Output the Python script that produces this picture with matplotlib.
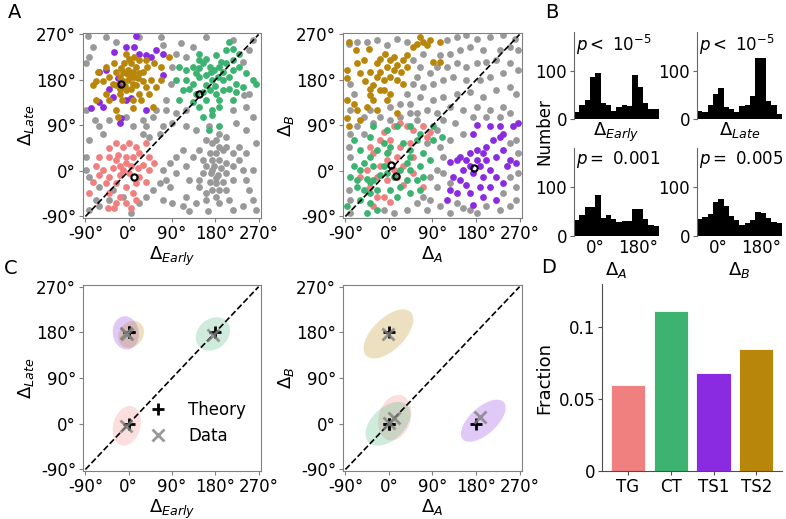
import numpy as np
import matplotlib
matplotlib.use("Agg")
import matplotlib.pyplot as plt
from matplotlib.patches import Ellipse
from matplotlib.lines import Line2D

# colours for the four cell classes
TG_COL = '#F08080'
CT_COL = '#3CB371'
TS1_COL = '#8A2BE2'
TS2_COL = '#B8860B'
GRAY = '#999999'

# ---------------- panel A, left: Delta_Early vs Delta_Late ----------------
el_ts2 = [(-68, 177), (-64, 196), (-47, 206), (-40, 186), (-30, 213), (-26, 170), (-19, 153), (-9, 213),
          (-2, 200), (5, 213), (5, 186), (8, 173), (15, 206), (22, 193), (29, 177), (39, 206), (46, 180),
          (53, 213), (67, 206), (67, 180), (84, 226), (57, 167), (43, 153), (22, 153), (8, 140), (-6, 160),
          (-13, 140), (-26, 120), (-40, 140), (-47, 153), (-68, 140), (-33, 173), (-19, 186), (-12, 196),
          (1, 222), (-6, 232), (12, 226), (22, 219), (36, 219), (15, 170), (5, 163), (-19, 163), (-54, 177),
          (-75, 170), (36, 167), (50, 127), (8, 124), (-23, 107), (26, 140), (-12, 177), (-2, 180), (8, 196),
          (-6, 193), (-16, 203), (-26, 196), (19, 183), (29, 196), (0, 190), (10, 185), (-8, 168)]
el_ts1 = [(15, 267), (-6, 246), (12, 246), (22, 232), (36, 229), (71, 232), (57, 239), (-61, 196), (-47, 200),
          (-23, 183), (-78, 124), (-54, 127), (-33, 147), (-16, 104), (-19, 94), (-6, 140), (5, 144), (36, 120),
          (-40, 163), (-30, 236), (46, 226), (-61, 137), (71, 190), (-18, 173)]
el_ct = [(209, 256), (147, 232), (161, 222), (181, 229), (202, 239), (216, 242), (230, 232), (105, 206),
         (119, 200), (133, 206), (147, 203), (154, 213), (168, 206), (178, 200), (188, 206), (202, 213),
         (216, 200), (230, 206), (244, 193), (258, 180), (265, 173), (98, 180), (119, 180), (133, 173),
         (147, 186), (161, 190), (174, 180), (185, 186), (195, 180), (209, 186), (223, 173), (237, 167),
         (112, 160), (126, 163), (140, 153), (154, 156), (168, 160), (181, 153), (195, 160), (209, 163),
         (223, 156), (105, 140), (133, 137), (161, 140), (188, 140), (216, 140), (147, 127), (174, 120),
         (188, 127), (154, 107), (174, 111), (188, 88), (167, 81), (147, 219), (192, 216), (140, 193),
         (216, 219), (170, 195), (195, 195), (160, 170), (180, 168)]
el_tg = [(-40, 45), (-26, 55), (-12, 48), (1, 55), (15, 48), (36, 55), (-61, 28), (-40, 28), (-26, 22), (-6, 28),
         (8, 28), (22, 35), (43, 28), (53, 15), (-68, 9), (-54, 2), (-33, 5), (-19, 9), (5, 9), (29, 12), (43, 2),
         (-61, -8), (-40, -11), (-19, -8), (1, -4), (22, -11), (36, -21), (-75, -21), (-47, -24), (-26, -24),
         (-6, -31), (15, -24), (-82, -43), (-40, -44), (-19, -51), (8, -44), (15, -57), (-26, -64), (-6, -64),
         (-44, -74), (-30, -74), (5, -74), (-23, 32), (-12, 2), (19, 5), (-5, 15)]
el_gray = [(-85, 267), (-47, 265), (-26, 255), (22, 265), (67, 265), (109, 254), (133, 246), (161, 265),
           (216, 259), (258, 259), (251, 239), (71, 249), (98, 232), (-89, 213), (-82, 226), (-75, 246),
           (91, 206), (88, 173), (237, 216), (119, 226), (251, 153), (-61, 88), (-40, 101), (-54, 74),
           (-82, 61), (-6, 107), (8, 88), (29, 101), (50, 107), (71, 88), (78, 120), (98, 114), (91, 94),
           (64, 74), (43, 68), (29, 74), (119, 88), (140, 81), (216, 120), (244, 127), (223, 94), (258, 107),
           (244, 81), (-89, 28), (-89, 2), (-82, -11), (-61, -31), (-68, -57), (-61, -70), (-82, -77),
           (-40, -57), (-33, -37), (-12, -51), (5, -84), (22, -64), (36, -51), (50, -37), (64, -24), (78, -18),
           (71, 2), (85, 15), (98, -4), (85, -31), (71, -57), (91, -64), (119, -51), (112, -70), (126, -80),
           (98, 28), (112, 42), (133, 28), (119, 9), (126, -18), (147, -31), (140, -64), (161, -57),
           (164, -80), (161, 61), (174, 55), (147, 42), (168, 35), (181, 35), (195, 42), (154, 22), (174, 22),
           (188, 22), (202, 15), (161, 9), (178, 9), (192, 5), (216, 9), (154, -4), (171, -4), (185, -8),
           (202, -4), (147, -18), (168, -21), (181, -24), (195, -21), (216, -18), (174, -37), (188, -37),
           (202, -37), (181, -51), (161, -44), (209, -57), (188, -64), (230, 22), (237, 2), (244, -18),
           (251, -37), (258, -57), (237, -70), (265, -77), (216, -77), (258, 2), (216, 35), (244, 35),
           (202, 68), (188, 74), (167, 88), (202, 48), (230, 48), (265, 55), (181, 61), (188, 48), (174, 2),
           (181, -14), (36, 88), (57, 120), (78, 140), (-89, 120), (-70, 100), (120, 120), (240, 150)]
el_means = [(-15, 173), (147, 153), (12, -11)]

# ---------------- panel A, right: Delta_A vs Delta_B ----------------
ab_ts2 = [(-83, 256), (-42, 242), (-87, 200), (-87, 183), (-87, 140), (-87, 104), (-83, 88), (-66, 213),
          (-59, 193), (-49, 177), (-39, 196), (-25, 213), (-25, 186), (-39, 163), (-39, 150), (-32, 140),
          (-25, 120), (-18, 160), (-11, 180), (-4, 206), (3, 219), (10, 226), (3, 186), (10, 200), (17, 209),
          (24, 196), (30, 219), (37, 229), (17, 180), (30, 173), (-11, 160), (3, 153), (-4, 140), (17, 114),
          (-45, 127), (-66, 120), (-73, 133), (-59, 101), (37, 206), (57, 252), (64, 265), (71, 256),
          (85, 259), (105, 256), (78, 249), (50, 246), (92, 216), (105, 216), (-18, 222), (-8, 232),
          (-52, 219), (-69, 239), (-18, 196), (-32, 170)]
ab_tg = [(10, 88), (23, 94), (37, 88), (50, 81), (71, 88), (85, 78), (78, 68), (-11, 78), (-18, 61), (-39, 48),
         (-32, 35), (3, 61), (23, 48), (44, 55), (50, 28), (30, 9), (17, 28), (-4, 22), (-18, 9), (-45, 2),
         (-59, -11), (-39, -31), (-25, -11), (-4, -18), (17, -11), (30, -28), (50, -4), (71, -31), (-11, -51),
         (3, -61), (-32, -70), (-25, -51), (-45, -37), (10, 2), (-1, 38)]
ab_ct = [(-32, 88), (-4, 81), (17, 88), (44, 88), (64, 74), (92, 88), (109, 68), (92, 61), (57, 61), (30, 55),
         (-11, 55), (-39, 68), (-73, 61), (-59, 42), (-39, 28), (-25, 42), (-4, 35), (44, 28), (71, 35),
         (85, 22), (64, 9), (44, 2), (23, 2), (-11, 9), (-32, 9), (-52, 15), (-73, 9), (-80, -11), (-66, -18),
         (-45, -15), (-32, -18), (-18, -8), (-4, -4), (10, -11), (37, -18), (57, -18), (71, -11), (-66, -31),
         (-52, -37), (-39, -44), (-25, -37), (3, -37), (23, -31), (44, -44), (64, -37), (-39, -64),
         (-25, -77), (-45, -84), (-59, -57), (17, -51), (-59, 2), (37, 15), (3, 48), (44, 42), (-87, -70),
         (-39, -21)]
ab_ts1 = [(181, 91), (174, 74), (208, 88), (229, 88), (236, 74), (256, 88), (266, 94), (229, 68), (215, 61),
          (201, 48), (181, 42), (167, 35), (146, 28), (126, 18), (140, 22), (160, 22), (181, 22), (201, 22),
          (222, 28), (236, 42), (243, 9), (263, 15), (167, 9), (188, 9), (208, 2), (174, -4), (194, -11),
          (222, -11), (153, 2), (132, -11), (146, -18), (160, -28), (188, -31), (208, -31), (236, -24),
          (126, -37), (140, -44), (167, -44), (194, -51), (222, -57), (119, -57), (174, -67), (250, 22),
          (194, 35)]
ab_gray = [(-83, 252), (-66, 256), (-45, 256), (-25, 259), (-4, 249), (17, 262), (37, 256), (119, 259),
           (140, 265), (160, 269), (181, 262), (208, 265), (236, 269), (260, 262), (266, 239), (250, 246),
           (229, 239), (195, 239), (167, 246), (146, 239), (126, 232), (105, 229), (140, 213), (160, 206),
           (181, 213), (201, 216), (222, 219), (250, 213), (266, 200), (236, 193), (208, 186), (188, 180),
           (160, 180), (133, 186), (112, 180), (92, 173), (71, 167), (50, 173), (37, 153), (64, 147),
           (92, 140), (112, 147), (140, 153), (167, 156), (195, 147), (222, 160), (250, 167), (263, 153),
           (236, 127), (208, 120), (181, 127), (153, 120), (126, 127), (99, 114), (78, 120), (57, 114),
           (44, 133), (136, 94), (112, 101), (153, 74), (126, 61), (105, 48), (112, 28), (99, 2), (85, -11),
           (99, -31), (112, -4), (85, -57), (105, -70), (126, -84), (153, -74), (181, -84), (201, -70),
           (229, -77), (250, -70), (263, -57), (263, -31), (250, -11), (266, -4), (266, 35), (263, 61),
           (250, 55), (78, -77), (57, -64), (37, -77), (10, -84), (-11, -77), (-80, -84), (-80, -57),
           (-83, -37), (-80, 28), (-83, 48), (-80, 74), (-66, 88), (-52, 107), (-80, 120), (-39, 120),
           (-18, 107), (3, 127), (23, 133), (44, 114), (57, 101), (23, 107), (3, 101), (-32, 94), (-52, 74),
           (-80, 173), (-73, 153), (64, 206), (71, 232), (50, 219), (57, 186), (85, 193), (99, 206),
           (119, 206), (174, 107), (201, 107), (229, 107), (250, 114), (99, 81), (78, 55), (126, -24),
           (140, -64), (167, -77), (236, -44), (71, -51)]
ab_means = [(5, 11), (14, -9), (176, 5)]

# ---------------- panel B histograms (16 bins of 22.5 deg) ----------------
bin_edges = np.arange(-90, 270.1, 22.5)
hist_early = [15, 29, 39, 87, 96, 33, 29, 16, 24, 29, 27, 92, 66, 33, 21, 21]
hist_late = [16, 14, 28, 52, 65, 24, 20, 15, 26, 28, 48, 126, 126, 38, 28, 10]
hist_a = [32, 42, 59, 59, 84, 36, 43, 35, 29, 30, 30, 55, 55, 34, 22, 21]
hist_b = [34, 38, 44, 70, 75, 62, 41, 32, 22, 27, 32, 49, 48, 37, 29, 27]
hist_p = [r'$p<$ $10^{-5}$', r'$p<$ $10^{-5}$', r'$p=$ 0.001', r'$p=$ 0.005']
hist_lab = [r'$\Delta_{Early}$', r'$\Delta_{Late}$', r'$\Delta_A$', r'$\Delta_B$']

# ---------------- panel C: theory vs data ellipses ----------------
# (class, centre x, centre y, width, height, angle)
ell_el = [('TS1', -6, 179, 66, 54, 100), ('TS2', 5, 176, 58, 48, 45),
          ('CT', 175, 177, 76, 60, 35), ('TG', -4, -4, 80, 56, 72)]
theory_el = [(0, 180), (180, 180), (0, 0), (0, 180)]
data_el = [(-6, 179), (175, 174), (-5, -4), (-3, 177)]
ell_ab = [('TS2', -1, 177, 126, 64, 42), ('TG', 12, 12, 92, 66, 72),
          ('CT', -2, 0, 108, 66, 40), ('TS1', 195, 6, 112, 54, 40)]
theory_ab = [(0, 180), (0, 0), (180, 0), (0, 0)]
data_ab = [(-1, 176), (10, 12), (189, 14), (0, 2)]

# ---------------- panel D: fractions ----------------
classes = ['TG', 'CT', 'TS1', 'TS2']
fractions = [0.060, 0.111, 0.068, 0.085]
class_col = {'TG': TG_COL, 'CT': CT_COL, 'TS1': TS1_COL, 'TS2': TS2_COL}

deg_ticks = [-90, 0, 90, 180, 270]
deg_labels = ['-90°', '0°', '90°', '180°', '270°']

plt.rcParams['font.size'] = 12
fig = plt.figure(figsize=(7.86, 5.19), dpi=100)


def style_square(ax, xlabel, ylabel):
    ax.set_xlim(-95, 275)
    ax.set_ylim(-93, 273)
    ax.set_xticks(deg_ticks)
    ax.set_xticklabels(deg_labels)
    ax.set_yticks(deg_ticks)
    ax.set_yticklabels(deg_labels)
    for sp in ax.spines.values():
        sp.set_color('0.5')
    ax.tick_params(colors='0.5', labelcolor='k', labelsize=12, length=3, pad=2)
    ax.set_xlabel(xlabel, fontsize=13, labelpad=1)
    ax.set_ylabel(ylabel, fontsize=13, labelpad=0)
    ax.plot([-90, 270], [-90, 270], 'k--', lw=1.2, zorder=3)


def scatter_set(ax, pts, col):
    p = np.array(pts)
    ax.scatter(p[:, 0], p[:, 1], s=24, color=col, lw=0, zorder=2)


# A left
axA1 = fig.add_axes([0.1056, 0.580, 0.2265, 0.3565])
scatter_set(axA1, el_gray, GRAY)
scatter_set(axA1, el_tg, TG_COL)
scatter_set(axA1, el_ct, CT_COL)
scatter_set(axA1, el_ts1, TS1_COL)
scatter_set(axA1, el_ts2, TS2_COL)
m = np.array(el_means)
axA1.plot(m[:, 0], m[:, 1], 'o', mfc='none', mec='k', ms=4.5, mew=1.5, zorder=4)
style_square(axA1, r'$\Delta_{Early}$', r'$\Delta_{Late}$')

# A right
axA2 = fig.add_axes([0.4364, 0.580, 0.2277, 0.3565])
scatter_set(axA2, ab_gray, GRAY)
scatter_set(axA2, ab_ts2, TS2_COL)
scatter_set(axA2, ab_tg, TG_COL)
scatter_set(axA2, ab_ct, CT_COL)
scatter_set(axA2, ab_ts1, TS1_COL)
m = np.array(ab_means)
axA2.plot(m[:, 0], m[:, 1], 'o', mfc='none', mec='k', ms=4.5, mew=1.5, zorder=4)
style_square(axA2, r'$\Delta_A$', r'$\Delta_B$')

# B histograms
hist_rects = [[0.7303, 0.7707, 0.108, 0.1676], [0.8868, 0.7707, 0.108, 0.1676],
              [0.7303, 0.5453, 0.108, 0.1695], [0.8868, 0.5453, 0.108, 0.1695]]
for i, counts in enumerate([hist_early, hist_late, hist_a, hist_b]):
    ax = fig.add_axes(hist_rects[i])
    ax.bar(bin_edges[:-1], counts, width=22.5, align='edge', color='k', lw=0)
    ax.set_xlim(-90, 270)
    ax.set_ylim(0, 180)
    ax.set_yticks([0, 100])
    for s in ['top', 'right', 'bottom']:
        ax.spines[s].set_visible(False)
    ax.spines['left'].set_color('0.4')
    ax.tick_params(colors='0.4', labelcolor='k', labelsize=12, length=3, pad=2)
    if i < 2:
        ax.set_xticks([])
        ax.set_xlabel(hist_lab[i], fontsize=13, labelpad=1)
    else:
        ax.set_xticks([0, 180])
        ax.set_xticklabels(['0°', '180°'])
        ax.tick_params(axis='x', length=0)
        ax.set_xlabel(hist_lab[i], fontsize=13, labelpad=2)
    ax.text(0.02, 0.99, hist_p[i], transform=ax.transAxes, ha='left', va='top', fontsize=12)
fig.text(0.693, 0.746, 'Number', rotation=90, ha='center', va='center', fontsize=12)

# C panels


def ellipse_panel(rect, ells, theory, data, xlabel, ylabel, legend=False):
    ax = fig.add_axes(rect)
    for cls, cx, cy, w, h, ang in ells:
        ax.add_patch(Ellipse((cx, cy), w, h, angle=ang, color=class_col[cls], alpha=0.25, lw=0))
    t = np.array(theory)
    d = np.array(data)
    ax.plot(t[:, 0], t[:, 1], '+', color='k', ms=9, mew=2, zorder=4)
    ax.plot(d[:, 0], d[:, 1], 'x', color='0.5', ms=8, mew=2, alpha=0.8, zorder=5)
    style_square(ax, xlabel, ylabel)
    if legend:
        handles = [Line2D([], [], ls='', marker='+', color='k', ms=9, mew=2),
                   Line2D([], [], ls='', marker='x', color='0.5', ms=8, mew=2, alpha=0.8)]
        ax.legend(handles, ['Theory', 'Data'], loc='lower right', frameon=False,
                  bbox_to_anchor=(1.0, 0.06), fontsize=12, handletextpad=0.8)
    return ax


ellipse_panel([0.1056, 0.0925, 0.2265, 0.358], ell_el, theory_el, data_el,
              r'$\Delta_{Early}$', r'$\Delta_{Late}$', legend=True)
ellipse_panel([0.4364, 0.0925, 0.2277, 0.358], ell_ab, theory_ab, data_ab,
              r'$\Delta_A$', r'$\Delta_B$')

# D bars
axD = fig.add_axes([0.766, 0.0925, 0.229, 0.360])
axD.bar(classes, fractions, width=0.8, color=[class_col[c] for c in classes], edgecolor='white', lw=0.6)
axD.set_ylim(0, 0.13)
axD.set_yticks([0, 0.05, 0.1])
axD.set_yticklabels(['0', '0.05', '0.1'])
axD.set_xlim(-0.6, 3.6)
for s in ['top', 'right']:
    axD.spines[s].set_visible(False)
axD.spines['left'].set_color('0.3')
axD.spines['bottom'].set_color('0.3')
axD.tick_params(colors='0.3', labelcolor='k', labelsize=12, length=3, pad=2)
axD.set_ylabel('Fraction', fontsize=13, labelpad=4)

# panel letters
for lab, x, y in [('A', 0.010, 0.995), ('B', 0.693, 0.995), ('C', 0.005, 0.500), ('D', 0.688, 0.502)]:
    fig.text(x, y, lab, fontsize=14, ha='left', va='top')

fig.savefig('out.png', dpi=100)
